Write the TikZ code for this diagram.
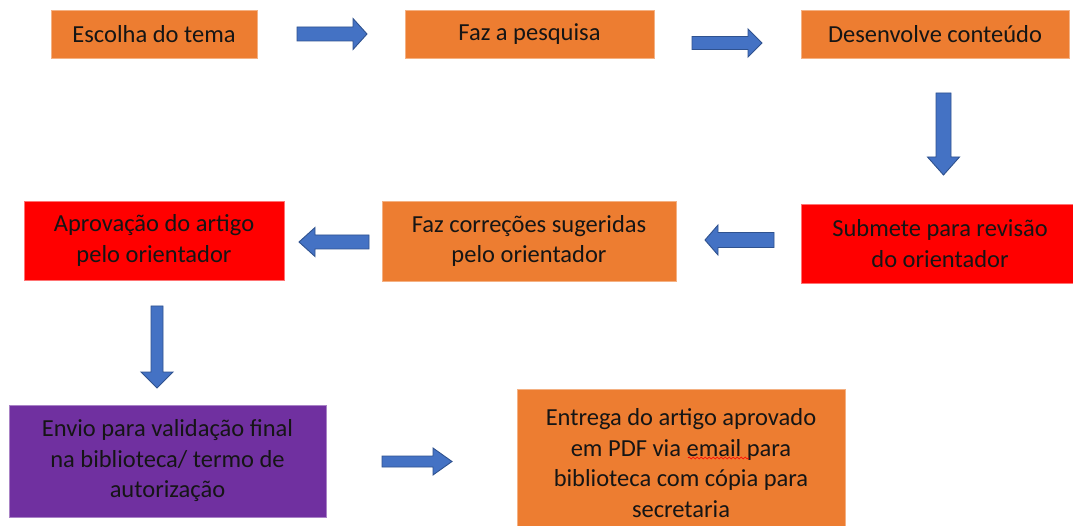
\documentclass[tikz,border=0pt]{standalone}
\usepackage{fontspec}
\setmainfont{Carlito}
\usetikzlibrary{decorations.pathmorphing}
\definecolor{boxorange}{HTML}{ED7D31}
\definecolor{boxred}{HTML}{FF0000}
\definecolor{boxpurple}{HTML}{7030A0}
\definecolor{arrowblue}{HTML}{4472C4}
\definecolor{arrowedge}{HTML}{2F528F}
\definecolor{textdark}{HTML}{151515}
\tikzset{
  stepbox/.style={rectangle, inner sep=0pt, align=center, text=textdark,
    font=\fontsize{24.5}{30.5}\selectfont, line width=0.8pt},
  orangebox/.style={stepbox, fill=boxorange, draw=boxorange!60!white},
  redbox/.style={stepbox, fill=boxred, draw=boxred!55!white},
  purplebox/.style={stepbox, fill=boxpurple, draw=boxpurple!60!white},
  arrowbody/.style={fill=arrowblue, draw=arrowedge, line width=0.9pt, line join=miter},
  pics/blockarrow/.style args={#1/#2/#3/#4}{code={
    \path[arrowbody] (0,-#2) -- (#1-#4,-#2) -- (#1-#4,-#3) -- (#1,0)
      -- (#1-#4,#3) -- (#1-#4,#2) -- (0,#2) -- cycle;
  }}
}
\begin{document}
\begin{tikzpicture}[x=1pt,y=-1pt]
\clip (0,0) rectangle (1073,526);
\fill[white] (0,0) rectangle (1073,526);

% boxes
\node[orangebox, minimum width=206, minimum height=48] (tema) at (154,34) {Escolha do tema};
\node[orangebox, minimum width=249, minimum height=48] (pesquisa) at (529.5,34) {Faz a pesquisa};
\node[orangebox, minimum width=268, minimum height=48] (conteudo) at (935,34) {Desenvolve conteúdo};
\node[redbox, minimum width=278, minimum height=79] (submete) at (940,243.5) {Submete para revisão\\do orientador};
\node[orangebox, minimum width=294, minimum height=80] (correcoes) at (529,241) {Faz correções sugeridas\\pelo orientador};
\node[redbox, minimum width=260, minimum height=79] (aprovacao) at (154,240.5) {Aprovação do artigo\\pelo orientador};
\node[purplebox, minimum width=317, minimum height=112] (envio) at (167.5,461) {Envio para validação final\\na biblioteca/ termo de\\autorização};
\node[orangebox, minimum width=328, minimum height=148] (entrega) at (681,463) {Entrega do artigo aprovado\\em PDF via email para\\biblioteca com cópia para\\secretaria};

% arrow start points
\coordinate (a1) at (297,34);
\coordinate (a2) at (692,43);
\coordinate (a3) at (943.5,93);
\coordinate (a4) at (774,240);
\coordinate (a5) at (369,242);
\coordinate (a6) at (157,306);
\coordinate (a7) at (382,461.5);

\pic at (a1) {blockarrow=70/7/15.5/14};
\pic at (a2) {blockarrow=70/6.5/14/14};
\pic[rotate=-90] at (a3) {blockarrow=82/7.5/16/18};
\pic[rotate=180] at (a4) {blockarrow=69/7.5/15/13};
\pic[rotate=180] at (a5) {blockarrow=70/7/14.5/16};
\pic[rotate=-90] at (a6) {blockarrow=82/6/16/16};
\pic at (a7) {blockarrow=70/5.5/13.5/19};

% spell-check squiggle under "email"
\coordinate (sq1) at (688,458);
\coordinate (sq2) at (749,458);
\draw[red, line width=0.6pt, decorate, decoration={snake, segment length=4pt, amplitude=1pt}] (sq1) -- (sq2);
\end{tikzpicture}
\end{document}
